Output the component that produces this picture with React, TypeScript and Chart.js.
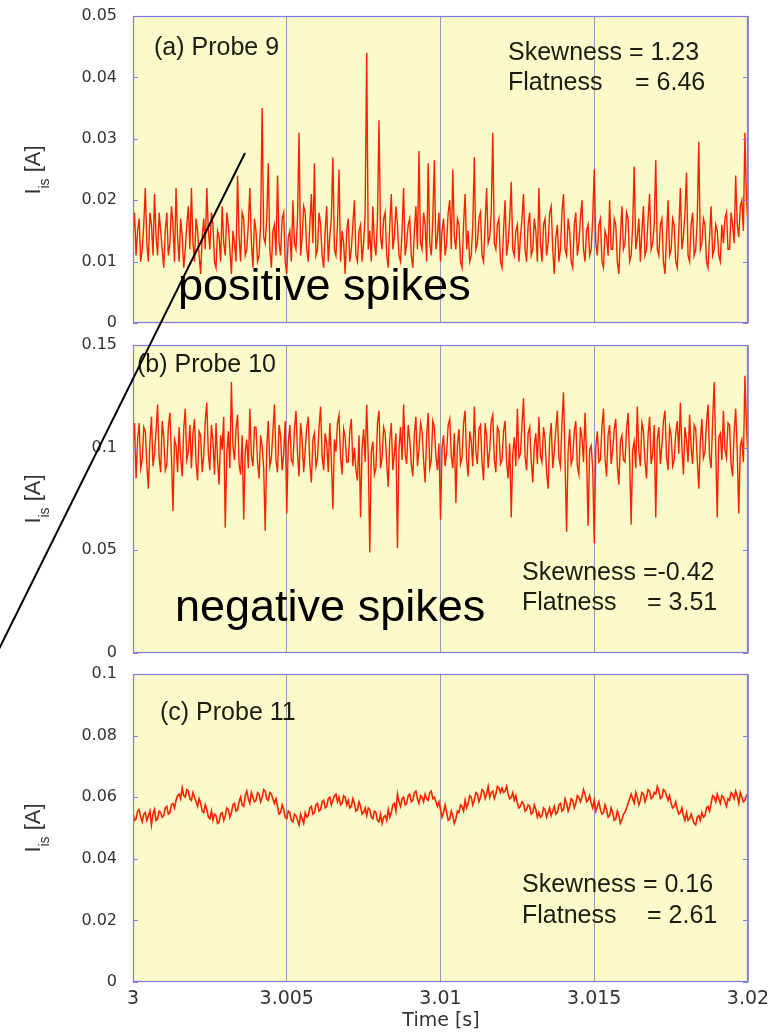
import React, { useEffect, useRef } from 'react';
import { Chart, registerables } from 'chart.js';

Chart.register(...registerables);

// ---------- data ----------
const TIME_START = 3.0;
const TIME_END = 3.02;
const timeTicks = [3, 3.005, 3.01, 3.015, 3.02];

const probe9Ticks = [0, 0.01, 0.02, 0.03, 0.04, 0.05];
const probe10Ticks = [0, 0.05, 0.1, 0.15];
const probe11Ticks = [0, 0.02, 0.04, 0.06, 0.08, 0.1];

// ion saturation current, probe 9 (A), evenly sampled over 3.000-3.020 s
const probe9 = [
  0.014, 0.018, 0.011, 0.015, 0.017, 0.010, 0.012, 0.016, 0.022, 0.013, 0.010, 0.018, 0.016, 0.011, 0.021, 0.014, 0.011, 0.018, 0.015, 0.012,
  0.009, 0.015, 0.018, 0.011, 0.013, 0.019, 0.016, 0.010, 0.022, 0.014, 0.010, 0.017, 0.014, 0.009, 0.012, 0.016, 0.019, 0.012, 0.022, 0.013,
  0.010, 0.017, 0.015, 0.011, 0.008, 0.014, 0.017, 0.012, 0.022, 0.015, 0.012, 0.018, 0.016, 0.010, 0.009, 0.015, 0.014, 0.010, 0.019, 0.013,
  0.011, 0.018, 0.016, 0.012, 0.008, 0.015, 0.013, 0.010, 0.024, 0.014, 0.010, 0.018, 0.017, 0.011, 0.012, 0.016, 0.022, 0.013, 0.009, 0.017,
  0.015, 0.010, 0.011, 0.016, 0.035, 0.014, 0.013, 0.017, 0.026, 0.012, 0.009, 0.015, 0.016, 0.011, 0.024, 0.013, 0.011, 0.017, 0.018, 0.010,
  0.008, 0.014, 0.015, 0.010, 0.020, 0.013, 0.012, 0.017, 0.031, 0.011, 0.014, 0.019, 0.018, 0.012, 0.010, 0.016, 0.021, 0.013, 0.026, 0.011,
  0.012, 0.018, 0.016, 0.011, 0.009, 0.015, 0.019, 0.010, 0.014, 0.017, 0.027, 0.012, 0.011, 0.016, 0.025, 0.010, 0.015, 0.013, 0.008, 0.015,
  0.017, 0.010, 0.012, 0.016, 0.020, 0.011, 0.010, 0.015, 0.016, 0.010, 0.013, 0.018, 0.044, 0.012, 0.015, 0.010, 0.019, 0.013, 0.011, 0.017,
  0.033, 0.014, 0.012, 0.017, 0.018, 0.011, 0.009, 0.016, 0.021, 0.012, 0.014, 0.019, 0.016, 0.011, 0.010, 0.015, 0.022, 0.011, 0.013, 0.016,
  0.017, 0.011, 0.009, 0.015, 0.019, 0.012, 0.028, 0.013, 0.012, 0.018, 0.016, 0.010, 0.026, 0.013, 0.011, 0.017, 0.0265, 0.012, 0.014, 0.018,
  0.010, 0.015, 0.017, 0.011, 0.013, 0.018, 0.020, 0.012, 0.025, 0.014, 0.012, 0.017, 0.016, 0.010, 0.009, 0.016, 0.021, 0.012, 0.015, 0.010,
  0.011, 0.016, 0.027, 0.012, 0.013, 0.017, 0.018, 0.011, 0.010, 0.016, 0.022, 0.013, 0.014, 0.018, 0.031, 0.013, 0.012, 0.016, 0.017, 0.010,
  0.009, 0.015, 0.020, 0.011, 0.013, 0.017, 0.023, 0.012, 0.011, 0.015, 0.016, 0.010, 0.014, 0.017, 0.021, 0.012, 0.010, 0.016, 0.018, 0.011,
  0.012, 0.017, 0.015, 0.010, 0.022, 0.013, 0.010, 0.016, 0.017, 0.011, 0.013, 0.018, 0.019, 0.012, 0.008, 0.014, 0.016, 0.010, 0.012, 0.018,
  0.021, 0.012, 0.011, 0.017, 0.015, 0.010, 0.009, 0.016, 0.018, 0.011, 0.013, 0.017, 0.020, 0.012, 0.010, 0.015, 0.016, 0.011, 0.012, 0.017,
  0.025, 0.013, 0.011, 0.016, 0.017, 0.010, 0.009, 0.015, 0.014, 0.011, 0.020, 0.012, 0.012, 0.017, 0.016, 0.010, 0.008, 0.014, 0.019, 0.012,
  0.013, 0.018, 0.017, 0.010, 0.011, 0.016, 0.0255, 0.012, 0.014, 0.017, 0.010, 0.015, 0.019, 0.011, 0.012, 0.017, 0.021, 0.012, 0.013, 0.016,
  0.0265, 0.012, 0.011, 0.016, 0.017, 0.010, 0.008, 0.014, 0.020, 0.011, 0.012, 0.017, 0.016, 0.010, 0.009, 0.015, 0.022, 0.012, 0.014, 0.018,
  0.0245, 0.011, 0.010, 0.016, 0.018, 0.011, 0.012, 0.017, 0.0295, 0.012, 0.013, 0.017, 0.016, 0.010, 0.009, 0.014, 0.019, 0.011, 0.012, 0.016,
  0.015, 0.011, 0.010, 0.016, 0.013, 0.017, 0.018, 0.012, 0.012, 0.018, 0.016, 0.013, 0.024, 0.016, 0.014, 0.019, 0.020, 0.015, 0.031, 0.020,
  0.016,
];

// probe 10 (A)
const probe10 = [
  0.100, 0.112, 0.085, 0.104, 0.112, 0.090, 0.094, 0.110, 0.108, 0.092, 0.080, 0.103, 0.115, 0.091, 0.097, 0.108, 0.121, 0.095, 0.088, 0.113,
  0.105, 0.089, 0.092, 0.110, 0.117, 0.096, 0.069, 0.104, 0.101, 0.088, 0.110, 0.095, 0.086, 0.109, 0.119, 0.094, 0.098, 0.111, 0.090, 0.107,
  0.114, 0.093, 0.084, 0.108, 0.106, 0.088, 0.096, 0.113, 0.122, 0.097, 0.089, 0.111, 0.103, 0.087, 0.112, 0.094, 0.082, 0.106, 0.099, 0.115,
  0.061, 0.097, 0.108, 0.090, 0.132, 0.101, 0.094, 0.109, 0.116, 0.092, 0.087, 0.106, 0.065, 0.098, 0.104, 0.090, 0.119, 0.096, 0.091, 0.110,
  0.110, 0.093, 0.085, 0.106, 0.101, 0.090, 0.0595, 0.100, 0.113, 0.091, 0.095, 0.108, 0.121, 0.094, 0.088, 0.111, 0.106, 0.089, 0.097, 0.113,
  0.068, 0.102, 0.111, 0.094, 0.092, 0.109, 0.118, 0.097, 0.086, 0.112, 0.104, 0.088, 0.099, 0.110, 0.115, 0.092, 0.083, 0.104, 0.107, 0.091,
  0.095, 0.110, 0.120, 0.096, 0.089, 0.107, 0.102, 0.088, 0.112, 0.094, 0.070, 0.104, 0.098, 0.112, 0.116, 0.095, 0.087, 0.109, 0.105, 0.093,
  0.093, 0.108, 0.114, 0.091, 0.100, 0.089, 0.084, 0.106, 0.066, 0.100, 0.109, 0.093, 0.121, 0.096, 0.049, 0.098, 0.103, 0.087, 0.090, 0.112,
  0.118, 0.090, 0.095, 0.110, 0.107, 0.093, 0.081, 0.104, 0.112, 0.089, 0.097, 0.107, 0.051, 0.099, 0.110, 0.094, 0.121, 0.097, 0.092, 0.111,
  0.104, 0.092, 0.086, 0.107, 0.115, 0.091, 0.099, 0.112, 0.108, 0.094, 0.083, 0.106, 0.117, 0.090, 0.094, 0.113, 0.110, 0.096, 0.089, 0.102,
  0.065, 0.100, 0.106, 0.091, 0.098, 0.111, 0.114, 0.096, 0.090, 0.107, 0.073, 0.101, 0.109, 0.092, 0.095, 0.112, 0.118, 0.094, 0.086, 0.108,
  0.103, 0.091, 0.120, 0.098, 0.092, 0.109, 0.111, 0.093, 0.084, 0.112, 0.106, 0.090, 0.099, 0.113, 0.116, 0.094, 0.088, 0.110, 0.108, 0.092,
  0.094, 0.108, 0.113, 0.093, 0.085, 0.102, 0.066, 0.097, 0.105, 0.091, 0.119, 0.095, 0.097, 0.111, 0.124, 0.096, 0.089, 0.107, 0.110, 0.094,
  0.083, 0.101, 0.107, 0.092, 0.115, 0.096, 0.093, 0.110, 0.104, 0.088, 0.080, 0.104, 0.112, 0.090, 0.098, 0.109, 0.118, 0.095, 0.091, 0.112,
  0.127, 0.094, 0.059, 0.098, 0.109, 0.092, 0.095, 0.108, 0.113, 0.091, 0.087, 0.110, 0.105, 0.093, 0.117, 0.096, 0.062, 0.099, 0.101, 0.090,
  0.0535, 0.100, 0.108, 0.093, 0.094, 0.110, 0.119, 0.095, 0.086, 0.106, 0.111, 0.092, 0.099, 0.109, 0.114, 0.091, 0.082, 0.103, 0.106, 0.094,
  0.093, 0.109, 0.117, 0.095, 0.0625, 0.099, 0.103, 0.090, 0.120, 0.098, 0.091, 0.112, 0.108, 0.093, 0.085, 0.106, 0.115, 0.092, 0.097, 0.111,
  0.066, 0.104, 0.110, 0.092, 0.101, 0.113, 0.118, 0.096, 0.089, 0.110, 0.106, 0.091, 0.094, 0.107, 0.113, 0.097, 0.122, 0.100, 0.087, 0.110,
  0.104, 0.093, 0.116, 0.100, 0.092, 0.111, 0.109, 0.094, 0.080, 0.103, 0.114, 0.095, 0.098, 0.112, 0.121, 0.096, 0.090, 0.113, 0.132, 0.101,
  0.066, 0.105, 0.107, 0.094, 0.118, 0.099, 0.095, 0.112, 0.111, 0.092, 0.086, 0.108, 0.119, 0.098, 0.068, 0.101, 0.104, 0.093, 0.135, 0.110,
  0.095,
];

// probe 11 (A)
const probe11 = [
  0.055, 0.0525, 0.053, 0.0555, 0.056, 0.0535, 0.052, 0.0545, 0.055, 0.0525, 0.054, 0.0555, 0.051, 0.0545, 0.056, 0.0525, 0.053, 0.0555, 0.055, 0.0535,
  0.054, 0.0565, 0.057, 0.0545, 0.055, 0.0575, 0.058, 0.0565, 0.059, 0.0605, 0.061, 0.0595, 0.063, 0.0605, 0.060, 0.0625, 0.062, 0.0595, 0.059, 0.0615,
  0.060, 0.0585, 0.057, 0.0595, 0.058, 0.0555, 0.055, 0.0575, 0.056, 0.0535, 0.053, 0.0555, 0.0525, 0.0545, 0.054, 0.0515, 0.052, 0.0545, 0.055, 0.0525,
  0.054, 0.0565, 0.056, 0.0535, 0.055, 0.0575, 0.058, 0.0555, 0.056, 0.0585, 0.060, 0.0575, 0.057, 0.0605, 0.062, 0.0595, 0.058, 0.0615, 0.060, 0.0585,
  0.059, 0.0615, 0.061, 0.0585, 0.060, 0.0625, 0.062, 0.0595, 0.059, 0.0615, 0.061, 0.0595, 0.058, 0.0595, 0.057, 0.0545, 0.055, 0.0575, 0.056, 0.0535,
  0.053, 0.0555, 0.055, 0.0525, 0.052, 0.0545, 0.054, 0.0525, 0.051, 0.0545, 0.053, 0.0515, 0.055, 0.0535, 0.054, 0.0565, 0.057, 0.0545, 0.055, 0.0575,
  0.058, 0.0555, 0.056, 0.0585, 0.059, 0.0565, 0.057, 0.0595, 0.060, 0.0575, 0.059, 0.0605, 0.061, 0.0585, 0.060, 0.0575, 0.058, 0.0605, 0.060, 0.0575,
  0.059, 0.0565, 0.057, 0.0595, 0.058, 0.0555, 0.056, 0.0585, 0.057, 0.0545, 0.055, 0.0565, 0.054, 0.0565, 0.056, 0.0535, 0.053, 0.0555, 0.055, 0.0525,
  0.052, 0.0545, 0.0515, 0.0535, 0.054, 0.0525, 0.056, 0.0535, 0.055, 0.0575, 0.058, 0.0555, 0.061, 0.0585, 0.057, 0.0595, 0.060, 0.0575, 0.058, 0.0605,
  0.061, 0.0585, 0.059, 0.0615, 0.062, 0.0595, 0.058, 0.0605, 0.060, 0.0585, 0.061, 0.0595, 0.059, 0.0615, 0.062, 0.0595, 0.060, 0.0585, 0.057, 0.0585,
  0.056, 0.0535, 0.055, 0.0575, 0.055, 0.0525, 0.053, 0.0555, 0.054, 0.0515, 0.053, 0.0555, 0.055, 0.0575, 0.057, 0.0555, 0.059, 0.0565, 0.058, 0.0605,
  0.060, 0.0575, 0.059, 0.0615, 0.061, 0.0585, 0.060, 0.0625, 0.062, 0.0595, 0.061, 0.0635, 0.060, 0.0615, 0.062, 0.0595, 0.061, 0.0635, 0.063, 0.0615,
  0.063, 0.0615, 0.062, 0.0635, 0.061, 0.0595, 0.060, 0.0615, 0.059, 0.0605, 0.058, 0.0565, 0.057, 0.0585, 0.058, 0.0555, 0.056, 0.0575, 0.057, 0.0545,
  0.055, 0.0575, 0.056, 0.0535, 0.055, 0.0535, 0.054, 0.0565, 0.056, 0.0535, 0.055, 0.0565, 0.054, 0.0555, 0.057, 0.0545, 0.055, 0.0575, 0.058, 0.0555,
  0.056, 0.0595, 0.058, 0.0555, 0.057, 0.0595, 0.059, 0.0565, 0.058, 0.0605, 0.060, 0.0585, 0.060, 0.0625, 0.061, 0.0585, 0.059, 0.0605, 0.058, 0.0565,
  0.059, 0.0555, 0.057, 0.0585, 0.056, 0.0545, 0.055, 0.0575, 0.056, 0.0535, 0.054, 0.0565, 0.055, 0.0525, 0.053, 0.0555, 0.054, 0.0515, 0.0527, 0.0545,
  0.055, 0.0565, 0.058, 0.0595, 0.061, 0.0595, 0.058, 0.0615, 0.060, 0.0575, 0.059, 0.0615, 0.061, 0.0585, 0.060, 0.0625, 0.062, 0.0595, 0.060, 0.0615,
  0.061, 0.0635, 0.062, 0.0595, 0.060, 0.0625, 0.062, 0.0605, 0.059, 0.0605, 0.058, 0.0565, 0.057, 0.0585, 0.056, 0.0545, 0.055, 0.0565, 0.054, 0.0525,
  0.055, 0.0525, 0.053, 0.0545, 0.053, 0.0515, 0.051, 0.0535, 0.054, 0.0525, 0.055, 0.0535, 0.054, 0.0565, 0.057, 0.0555, 0.058, 0.0605, 0.060, 0.0585,
  0.061, 0.0595, 0.058, 0.0605, 0.060, 0.0585, 0.057, 0.0595, 0.059, 0.0615, 0.061, 0.0595, 0.062, 0.0605, 0.058, 0.0615, 0.060, 0.0585, 0.059, 0.0605,
  0.0597,
];

// ---------- styling ----------
const BG = '#fafacb';
const FRAME = 'rgb(125,125,225)';
const GRID = 'rgb(150,150,195)';
const TRACE = 'rgb(255,32,0)';
const TICK_TEXT = '#333333';
const SANS = '"Liberation Sans", Arial, Helvetica, sans-serif';
const WIDE = '"DejaVu Sans", sans-serif';

type Txt = { text: string; x: number; y: number; font: string; color: string };

type Panel = {
  key: string;
  top: number;
  height: number;
  padTop: number;
  padBottom: number;
  xHeight: number;
  yMax: number;
  yTicks: number[];
  values: number[];
  showX: boolean;
  yTitleCenter: number;
  lineWidth: number;
  texts: Txt[];
};

const statFont = `25px ${SANS}`;
const labelFont = `25px ${SANS}`;
const bigFont = `45px ${SANS}`;
const DARK = '#1c1c10';

const panels: Panel[] = [
  {
    key: 'a', top: 0, height: 334, padTop: 16, padBottom: 11, xHeight: 0,
    yMax: 0.05, yTicks: probe9Ticks, values: probe9, showX: false, yTitleCenter: 170, lineWidth: 1.4,
    texts: [
      { text: '(a) Probe 9', x: 154, y: 55, font: labelFont, color: DARK },
      { text: 'Skewness = 1.23', x: 508, y: 60, font: statFont, color: DARK },
      { text: 'Flatness', x: 508, y: 90, font: statFont, color: DARK },
      { text: '= 6.46', x: 635, y: 90, font: statFont, color: DARK },
      { text: 'positive spikes', x: 178, y: 300, font: bigFont, color: '#000' },
    ],
  },
  {
    key: 'b', top: 334, height: 330, padTop: 11, padBottom: 11, xHeight: 0,
    yMax: 0.15, yTicks: probe10Ticks, values: probe10, showX: false, yTitleCenter: 499, lineWidth: 1.4,
    texts: [
      { text: '(b) Probe 10', x: 137, y: 372, font: labelFont, color: DARK },
      { text: 'Skewness =-0.42', x: 522, y: 580, font: statFont, color: DARK },
      { text: 'Flatness', x: 522, y: 610, font: statFont, color: DARK },
      { text: '= 3.51', x: 647, y: 610, font: statFont, color: DARK },
      { text: 'negative spikes', x: 175, y: 621, font: bigFont, color: '#000' },
    ],
  },
  {
    key: 'c', top: 664, height: 372, padTop: 10, padBottom: 0, xHeight: 54,
    yMax: 0.1, yTicks: probe11Ticks, values: probe11, showX: true, yTitleCenter: 828, lineWidth: 1.6,
    texts: [
      { text: '(c) Probe 11', x: 160, y: 720, font: labelFont, color: DARK },
      { text: 'Skewness = 0.16', x: 522, y: 892, font: statFont, color: DARK },
      { text: 'Flatness', x: 522, y: 923, font: statFont, color: DARK },
      { text: '= 2.61', x: 647, y: 923, font: statFont, color: DARK },
    ],
  },
];

// diagonal pointer line in page coordinates
const POINTER = { x1: 245, y1: 153, x2: -2, y2: 651 };

const fmt = (v: number) => String(parseFloat(Number(v).toFixed(4)));

function decorPlugin(p: Panel) {
  return {
    id: 'decor_' + p.key,
    beforeDraw(chart: any) {
      const { ctx, chartArea: a } = chart;
      ctx.save();
      ctx.fillStyle = BG;
      ctx.fillRect(a.left, a.top, a.right - a.left, a.bottom - a.top);
      ctx.restore();
    },
    afterDraw(chart: any) {
      const { ctx, chartArea: a } = chart;
      const ys = chart.scales.y;
      ctx.save();
      ctx.strokeStyle = FRAME;
      ctx.lineWidth = 1.2;
      ctx.strokeRect(a.left + 0.5, a.top + 0.5, a.right - a.left - 1, a.bottom - a.top - 1);
      ctx.lineWidth = 1;
      for (const v of p.yTicks) {
        const py = Math.round(ys.getPixelForValue(v)) + 0.5;
        ctx.beginPath();
        ctx.moveTo(a.left, py);
        ctx.lineTo(a.left + 5, py);
        ctx.moveTo(a.right, py);
        ctx.lineTo(a.right - 5, py);
        ctx.stroke();
      }
      ctx.textAlign = 'left';
      ctx.textBaseline = 'alphabetic';
      for (const t of p.texts) {
        ctx.font = t.font;
        ctx.fillStyle = t.color;
        ctx.fillText(t.text, t.x, t.y - p.top);
      }
      // y-axis title: I_is [A]
      ctx.translate(40, p.yTitleCenter - p.top);
      ctx.rotate(-Math.PI / 2);
      ctx.fillStyle = '#333';
      const mainF = `22px ${SANS}`;
      const subF = `14px ${SANS}`;
      ctx.font = mainF;
      const wI = ctx.measureText('I').width;
      const wA = ctx.measureText(' [A]').width;
      ctx.font = subF;
      const wS = ctx.measureText('is').width;
      let cx = -(wI + wS + wA) / 2;
      ctx.font = mainF;
      ctx.fillText('I', cx, 0);
      cx += wI;
      ctx.font = subF;
      ctx.fillText('is', cx, 9);
      cx += wS;
      ctx.font = mainF;
      ctx.fillText(' [A]', cx, 0);
      ctx.setTransform(1, 0, 0, 1, 0, 0);
      if (p.showX) {
        ctx.font = `19px ${WIDE}`;
        ctx.fillStyle = '#333';
        ctx.textAlign = 'center';
        ctx.fillText('Time [s]', 441, 1026 - p.top);
      }
      ctx.strokeStyle = '#000';
      ctx.lineWidth = 2;
      ctx.beginPath();
      ctx.moveTo(POINTER.x1, POINTER.y1 - p.top);
      ctx.lineTo(POINTER.x2, POINTER.y2 - p.top);
      ctx.stroke();
      ctx.restore();
    },
  };
}

function PanelChart({ p }: { p: Panel }) {
  const ref = useRef<HTMLCanvasElement | null>(null);
  useEffect(() => {
    if (!ref.current) return;
    const n = p.values.length;
    const step = (TIME_END - TIME_START) / (n - 1);
    const pts = p.values.map((v, i) => ({ x: TIME_START + i * step, y: v }));
    const chart = new Chart(ref.current, {
      type: 'line',
      data: {
        datasets: [
          {
            data: pts,
            borderColor: TRACE,
            borderWidth: p.lineWidth,
            pointRadius: 0,
            tension: 0,
            fill: false,
          },
        ],
      },
      options: {
        animation: false,
        responsive: false,
        devicePixelRatio: 1,
        layout: { padding: { top: p.padTop, bottom: p.padBottom, left: 0, right: 30 } },
        plugins: { legend: { display: false }, tooltip: { enabled: false } },
        scales: {
          x: {
            type: 'linear',
            min: TIME_START,
            max: TIME_END,
            afterBuildTicks: (s: any) => {
              s.ticks = timeTicks.map((v) => ({ value: v }));
            },
            afterFit: (s: any) => {
              s.height = p.xHeight;
              s.paddingLeft = 0;
              s.paddingRight = 0;
              s.paddingTop = 0;
              s.paddingBottom = 0;
            },
            grid: { color: GRID, lineWidth: 1, drawTicks: false },
            border: { display: false },
            ticks: {
              display: p.showX,
              padding: 6,
              color: TICK_TEXT,
              font: { family: WIDE, size: 19 },
              maxRotation: 0,
              autoSkip: false,
              callback: (v: any) => fmt(v),
            },
          },
          y: {
            type: 'linear',
            min: 0,
            max: p.yMax,
            afterBuildTicks: (s: any) => {
              s.ticks = p.yTicks.map((v) => ({ value: v }));
            },
            afterFit: (s: any) => {
              s.width = 133;
              s.paddingTop = 0;
              s.paddingBottom = 0;
              s.paddingLeft = 0;
              s.paddingRight = 0;
            },
            grid: { display: false, drawTicks: false },
            border: { display: false },
            ticks: {
              padding: 16,
              color: TICK_TEXT,
              font: { family: WIDE, size: 16 },
              autoSkip: false,
              callback: (v: any) => fmt(v),
            },
          },
        },
      },
      plugins: [decorPlugin(p)],
    } as any);
    return () => chart.destroy();
  }, [p]);
  return (
    <div style={{ position: 'absolute', left: 0, top: p.top, width: 778, height: p.height }}>
      <canvas ref={ref} width={778} height={p.height} style={{ display: 'block' }} />
    </div>
  );
}

export default function App() {
  return (
    <div style={{ position: 'absolute', left: 0, top: 0, width: 778, height: 1036, background: '#fff', overflow: 'hidden' }}>
      {panels.map((p) => (
        <PanelChart key={p.key} p={p} />
      ))}
    </div>
  );
}
